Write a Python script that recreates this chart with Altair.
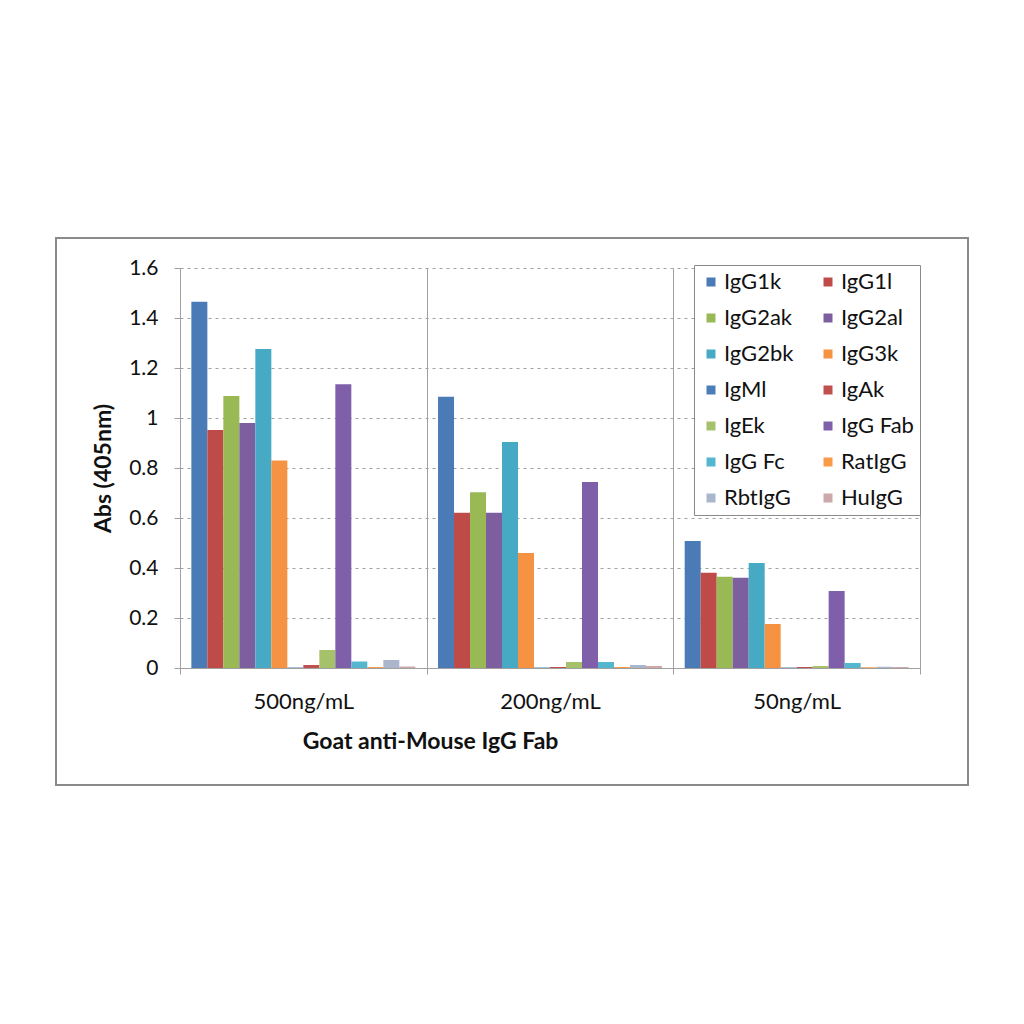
import altair as alt
import pandas as pd

groups = ["500ng/mL", "200ng/mL", "50ng/mL"]
series = ["IgG1k", "IgG1l", "IgG2ak", "IgG2al", "IgG2bk", "IgG3k", "IgMl",
          "IgAk", "IgEk", "IgG Fab", "IgG Fc", "RatIgG", "RbtIgG", "HuIgG"]
colors = ["#4A7BB7", "#BE4B48", "#98B954", "#7D5FA0", "#46AAC5", "#F59342",
          "#4A7EBB", "#C0504D", "#A5C26A", "#7F5FAA", "#55B6CF", "#F99A48",
          "#AAB6CC", "#CDA9AB"]

IgG1k = [1.465, 1.085, 0.508]
IgG1l = [0.952, 0.621, 0.381]
IgG2ak = [1.088, 0.703, 0.365]
IgG2al = [0.980, 0.621, 0.361]
IgG2bk = [1.276, 0.904, 0.420]
IgG3k = [0.830, 0.460, 0.176]
IgMl = [0.002, 0.002, 0.002]
IgAk = [0.012, 0.004, 0.004]
IgEk = [0.072, 0.024, 0.008]
IgG_Fab = [1.135, 0.744, 0.308]
IgG_Fc = [0.026, 0.024, 0.020]
RatIgG = [0.004, 0.004, 0.003]
RbtIgG = [0.032, 0.012, 0.005]
HuIgG = [0.006, 0.008, 0.004]

values = [IgG1k, IgG1l, IgG2ak, IgG2al, IgG2bk, IgG3k, IgMl, IgAk, IgEk,
          IgG_Fab, IgG_Fc, RatIgG, RbtIgG, HuIgG]

rows = []
for s, vals in zip(series, values):
    for g, v in zip(groups, vals):
        rows.append({"group": g, "series": s, "abs": v})
df = pd.DataFrame(rows)

FONT = "Lato"
GRAY = "#a0a0a0"
TXT = "#111111"

frame = alt.Chart(pd.DataFrame({"k": [0]})).mark_rect(
    fillOpacity=0, stroke="#8a8a8a", strokeWidth=2
).encode(
    x=alt.value(-124), x2=alt.value(788), y=alt.value(-30), y2=alt.value(517)
)

bars = alt.Chart(df).mark_bar().encode(
    x=alt.X(
        "group:N", sort=groups,
        scale=alt.Scale(paddingInner=0, paddingOuter=0),
        axis=alt.Axis(
            title="Goat anti-Mouse IgG Fab", labelAngle=0, tickBand="extent",
            grid=True, gridColor=GRAY, gridDash=[], gridWidth=1,
            domainColor=GRAY, tickColor=GRAY, tickSize=6,
            labelFont=FONT, labelFontSize=22, labelColor=TXT, labelPadding=17,
            titleFont=FONT, titleFontSize=23, titleFontWeight="bold", titleColor=TXT,
            titleX=250, titleY=73, titleAlign="center", titleBaseline="middle",
        ),
    ),
    xOffset=alt.XOffset("series:N", sort=series,
                        scale=alt.Scale(paddingInner=0, paddingOuter=0.71)),
    y=alt.Y(
        "abs:Q", scale=alt.Scale(domain=[0, 1.6]),
        axis=alt.Axis(
            title="Abs (405nm)", values=[0, 0.2, 0.4, 0.6, 0.8, 1, 1.2, 1.4, 1.6],
            format="~g", grid=True, gridColor=GRAY, gridDash=[3, 4],
            domainColor=GRAY, tickColor=GRAY, tickSize=6,
            labelFont=FONT, labelFontSize=21, labelColor=TXT, labelPadding=16,
            titleFont=FONT, titleFontSize=23, titleFontWeight="bold", titleColor=TXT,
            titleX=-77, titleY=200, titleAlign="center", titleBaseline="middle",
            titleAngle=270,
        ),
    ),
    color=alt.Color(
        "series:N", sort=series,
        scale=alt.Scale(domain=series, range=colors),
        legend=alt.Legend(
            title=None, orient="none", legendX=514, legendY=-3, columns=2,
            direction="horizontal",
            symbolType="square", symbolSize=81, symbolStrokeWidth=0,
            labelFont=FONT, labelFontSize=22, labelColor=TXT, labelOffset=2,
            rowPadding=14, columnPadding=23, padding=6,
            strokeColor="#8a8a8a", fillColor="white",
        ),
    ),
)

chart = alt.layer(frame, bars).properties(
    width=740, height=400,
    autosize=alt.AutoSizeParams(type="none"),
    padding={"left": 172, "top": 260, "right": 88, "bottom": 300},
).configure_view(stroke=None)

chart.save("out.html", embed_options={"renderer": "svg", "actions": False})
